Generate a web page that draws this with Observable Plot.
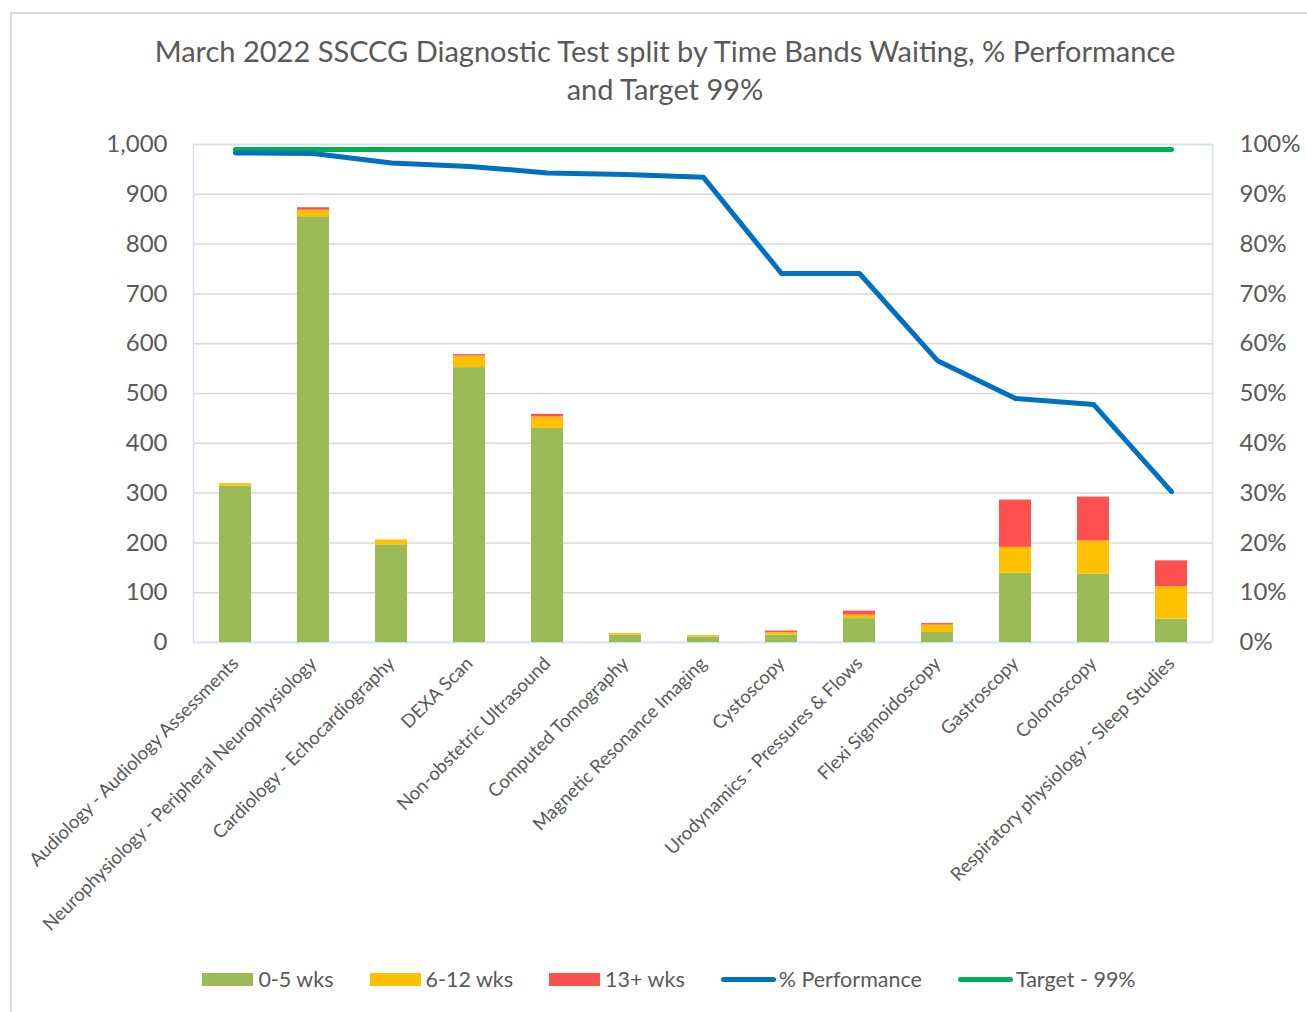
<!DOCTYPE html>
<html><head><meta charset="utf-8">
<script src="https://cdn.jsdelivr.net/npm/d3@7"></script>
<script src="https://cdn.jsdelivr.net/npm/@observablehq/plot@0.6"></script>
<style>
html,body{margin:0;padding:0;background:#fff;}
body{width:1307px;height:1012px;overflow:hidden;position:relative;font-family:Lato,"Open Sans",sans-serif;color:#595959;}
#frame{position:absolute;left:10px;top:12px;width:1320px;height:1020px;border:2px solid #d9d9d9;box-sizing:border-box;}
#title{position:absolute;left:0;width:1330px;top:32px;text-align:center;font-size:29px;line-height:38px;color:#595959;}
#chart{position:absolute;left:0;top:120px;}
#legend{position:absolute;left:0;top:966px;width:1338px;display:flex;justify-content:center;align-items:center;font-family:Lato,sans-serif;font-size:21.5px;color:#595959;}
.item{display:flex;align-items:center;margin:0 18px;}
.sw{width:51px;height:13px;margin-right:5px;}
.ln{width:55px;height:5px;border-radius:3px;margin-right:3px;}
</style></head>
<body>
<div id="frame"></div>
<div id="title">March 2022 SSCCG Diagnostic Test split by Time Bands Waiting, % Performance<br>and Target 99%</div>
<div id="chart"></div>
<div id="legend"></div>
<script>
const categories = [
  "Audiology - Audiology Assessments",
  "Neurophysiology - Peripheral Neurophysiology",
  "Cardiology - Echocardiography",
  "DEXA Scan",
  "Non-obstetric Ultrasound",
  "Computed Tomography",
  "Magnetic Resonance Imaging",
  "Cystoscopy",
  "Urodynamics - Pressures & Flows",
  "Flexi Sigmoidoscopy",
  "Gastroscopy",
  "Colonoscopy",
  "Respiratory physiology - Sleep Studies"
];
const wk0_5  = [314, 855, 196, 552, 430, 15, 11, 15, 48, 20, 139, 137, 47];
const wk6_12 = [5, 13, 10, 23, 23, 3, 3, 5, 7, 15, 52, 67, 65];
const wk13   = [0, 5, 0, 3, 5, 0, 0, 3, 8, 3, 95, 88, 52];
const performance = [98.3, 98.2, 96.3, 95.6, 94.3, 94.0, 93.4, 74.1, 74.1, 56.6, 49.0, 47.8, 30.3];
const targetPct = 99;
const bands = ["0-5 wks", "6-12 wks", "13+ wks"];
const bandColors = ["#9BBB59", "#FFC000", "#FF5050"];
const lineNames = ["% Performance", "Target - 99%"];
const lineColors = ["#0070C0", "#00B050"];
const yTicks = [0, 100, 200, 300, 400, 500, 600, 700, 800, 900, 1000];
const pctTicks = [0, 10, 20, 30, 40, 50, 60, 70, 80, 90, 100];

const series = [wk0_5, wk6_12, wk13];
const rows = [];
categories.forEach((c, i) => bands.forEach((b, j) => rows.push({cat: c, band: b, value: series[j][i]})));
const perfRows = categories.map((c, i) => ({cat: c, pct: performance[i]}));
const targetRows = categories.map(c => ({cat: c, pct: targetPct}));

const plot = Plot.plot({
  width: 1307, height: 820,
  marginLeft: 193, marginRight: 95, marginTop: 24, marginBottom: 298,
  x: {domain: categories, paddingInner: 0.59, paddingOuter: 0.295, label: null},
  y: {domain: [0, 1000], label: null},
  color: {domain: bands, range: bandColors},
  style: {fontFamily: "Lato, 'Open Sans', sans-serif", color: "#595959", background: "transparent"},
  marks: [
    Plot.gridY(yTicks, {stroke: "#d9d9d9", strokeOpacity: 1, strokeWidth: 1.5}),
    Plot.frame({stroke: "#d6e0f0", strokeWidth: 1.5}),
    Plot.barY(rows, {x: "cat", y: "value", fill: "band", order: bands}),
    Plot.line(targetRows, {x: "cat", y: d => d.pct * 10, stroke: lineColors[1], strokeWidth: 5, strokeLinecap: "round", strokeLinejoin: "round"}),
    Plot.line(perfRows, {x: "cat", y: d => d.pct * 10, stroke: lineColors[0], strokeWidth: 5, strokeLinecap: "round", strokeLinejoin: "round"}),
    Plot.axisY(yTicks, {anchor: "left", tickSize: 0, tickPadding: 26, tickFormat: d3.format(","), fontSize: 24, label: null}),
    Plot.axisY(pctTicks.map(p => p * 10), {anchor: "right", tickSize: 0, tickPadding: 27, tickFormat: d => (d / 10) + "%", fontSize: 24, label: null}),
    Plot.axisX({tickSize: 0, tickRotate: -45, tickPadding: 18, fontSize: 18.5, label: null})
  ]
});
document.getElementById("chart").appendChild(plot);

const legend = document.getElementById("legend");
bands.forEach((b, i) => {
  const it = document.createElement("div"); it.className = "item";
  it.innerHTML = `<span class="sw" style="background:${bandColors[i]}"></span><span>${b}</span>`;
  legend.appendChild(it);
});
lineNames.forEach((n, i) => {
  const it = document.createElement("div"); it.className = "item";
  it.innerHTML = `<span class="ln" style="background:${lineColors[i]}"></span><span>${n}</span>`;
  legend.appendChild(it);
});
</script>
</body></html>
